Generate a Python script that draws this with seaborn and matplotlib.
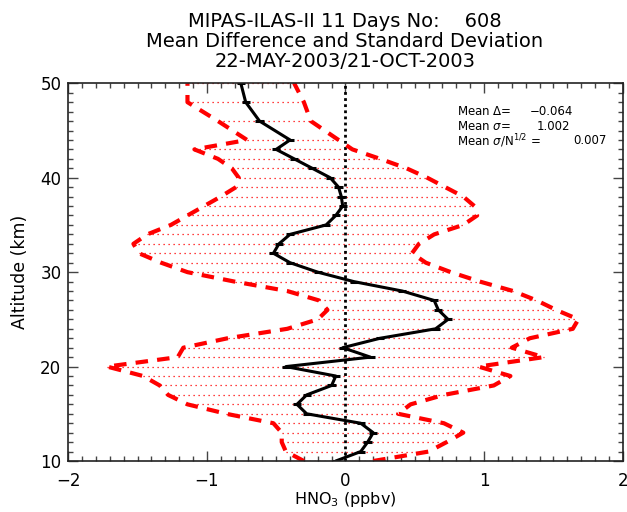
import matplotlib
matplotlib.use("Agg")
import matplotlib.pyplot as plt
import seaborn as sns
import numpy as np
import pandas as pd

# altitude levels (km)
altitude = [10, 11, 12, 13, 14, 15, 16, 17, 18, 19, 20, 21, 22, 23, 24, 25, 26, 27, 28,
            29, 30, 31, 32, 33, 34, 35, 36, 37, 38, 39, 40, 41, 42, 43, 44, 46, 48, 50]

# mean difference MIPAS - ILAS-II (ppbv)
mean_diff = [-0.07, 0.11, 0.16, 0.20, 0.11, -0.28, -0.35, -0.28, -0.10, -0.07, -0.43, 0.18,
             -0.02, 0.25, 0.65, 0.74, 0.67, 0.64, 0.41, 0.06, -0.20, -0.40, -0.52, -0.48,
             -0.40, -0.14, -0.07, -0.02, -0.03, -0.05, -0.11, -0.24, -0.37, -0.50, -0.40,
             -0.62, -0.72, -0.755]

# mean - sigma and mean + sigma
lower = [-0.30, -0.43, -0.46, -0.46, -0.52, -0.86, -1.14, -1.28, -1.34, -1.46, -1.72, -1.21,
         -1.17, -0.85, -0.42, -0.20, -0.13, -0.19, -0.42, -0.80, -1.14, -1.33, -1.49, -1.53,
         -1.43, -1.26, -1.14, -1.02, -0.90, -0.79, -0.77, -0.82, -0.92, -1.09, -0.71,
         -0.92, -1.14, -1.14]
upper = [0.20, 0.60, 0.73, 0.85, 0.71, 0.38, 0.47, 0.71, 1.07, 1.19, 0.96, 1.43,
         1.20, 1.33, 1.64, 1.68, 1.52, 1.38, 1.21, 0.97, 0.76, 0.58, 0.48, 0.53,
         0.64, 0.85, 0.95, 0.93, 0.85, 0.72, 0.59, 0.44, 0.25, 0.05, -0.05,
         -0.25, -0.30, -0.37]

# small error bars on the mean profile
err = [0.03] * len(altitude)

title_lines = ["MIPAS-ILAS-II 11 Days No:    608",
               "Mean Difference and Standard Deviation",
               "22-MAY-2003/21-OCT-2003"]
stats_labels = ["Mean $\\Delta$=", "Mean $\\sigma$=", "Mean $\\sigma$/N$^{1/2}$ ="]
stats_values = ["\u22120.064", "1.002", "0.007"]

df = pd.DataFrame({"alt": altitude, "diff": mean_diff, "lo": lower, "hi": upper, "err": err})

sns.set_style("ticks")
plt.rcParams['font.family'] = ['DejaVu Sans']
plt.rcParams['text.color'] = 'black'
plt.rcParams['axes.labelcolor'] = 'black'
plt.rcParams['xtick.color'] = '#444444'
plt.rcParams['ytick.color'] = '#444444'
plt.rcParams['xtick.labelcolor'] = 'black'
plt.rcParams['ytick.labelcolor'] = 'black'

fig = plt.figure(figsize=(6.27, 5.12), dpi=100)
ax = fig.add_axes([0.1089, 0.0996, 0.8842, 0.7377])

# dotted hatching between the sigma curves
ax.hlines(df["alt"], df["lo"], df["hi"], colors="red", linestyles=(0, (1, 3)), linewidth=0.9)

# zero line
ax.axvline(0, color="black", linestyle=(0, (1, 1.2)), linewidth=2.0)

# sigma envelopes
for col in ["lo", "hi"]:
    sns.lineplot(data=df, x=col, y="alt", sort=False, estimator=None, ax=ax,
                 color="red", linewidth=3, dashes=False)
for line in ax.get_lines()[-2:]:
    line.set_linestyle((0, (3, 2.2)))

# mean difference profile
sns.lineplot(data=df, x="diff", y="alt", sort=False, estimator=None, ax=ax,
             color="black", linewidth=2.2)
ax.errorbar(df["diff"], df["alt"], xerr=df["err"], fmt="none", ecolor="black", elinewidth=2.2)

ax.set_xlim(-2, 2)
ax.set_ylim(10, 50)
ax.set_xticks([-2, -1, 0, 1, 2])
ax.set_yticks([10, 20, 30, 40, 50])
ax.set_xticks(np.arange(-2, 2.01, 0.1), minor=True)
ax.set_yticks(np.arange(10, 50.1, 1), minor=True)
ax.tick_params(which="both", direction="in", top=True, right=True, width=1)
ax.tick_params(which="major", length=7, labelsize=12)
ax.tick_params(axis="x", which="major", pad=8)
ax.tick_params(axis="y", which="major", pad=5)
ax.tick_params(which="minor", length=3.5)
for s in ax.spines.values():
    s.set_linewidth(1.2)
    s.set_color("#222222")

ax.set_xlabel("HNO$_3$ (ppbv)", fontsize=11.5, labelpad=0)
ax.set_ylabel("Altitude (km)", fontsize=12.5, labelpad=8)

for i, t in enumerate(title_lines):
    fig.text(0.55, 0.958 - i * 0.039, t, ha="center", va="center", fontsize=14)

label_y = [0.9248, 0.8851, 0.8480]
value_x = [0.8328, 0.8454, 0.9103]
for lab, val, yy, xx in zip(stats_labels, stats_values, label_y, value_x):
    ax.text(0.7006, yy, lab, transform=ax.transAxes, fontsize=8.5, va="center")
    ax.text(xx, yy, val, transform=ax.transAxes, fontsize=8.5, va="center")

fig.savefig("out.png", dpi=100)
